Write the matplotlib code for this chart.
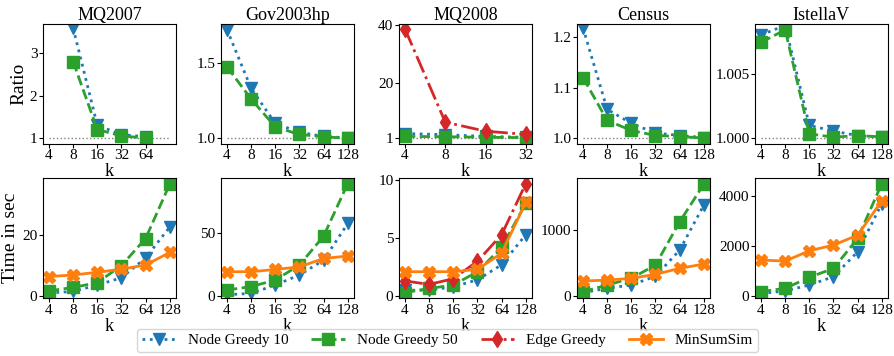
import matplotlib
matplotlib.use('Agg')
import matplotlib.pyplot as plt
from matplotlib.ticker import FixedLocator, NullLocator

plt.rcParams['font.family'] = ['Liberation Serif', 'DejaVu Serif']
plt.rcParams['font.size'] = 11

datasets = ['MQ2007', 'Gov2003hp', 'MQ2008', 'Census', 'IstellaV']
ks_all = [4, 8, 16, 32, 64, 128]

# ratio (top row)
ratio_ks = {
    'MQ2007': [8, 16, 32, 64],
    'Gov2003hp': [4, 8, 16, 32, 64, 128],
    'MQ2008': [4, 8, 16, 32],
    'Census': [4, 8, 16, 32, 64, 128],
    'IstellaV': [4, 8, 16, 32, 64, 128],
}
ratio_ng10 = {
    'MQ2007': [3.59, 1.3, 1.08, 1.03],
    'Gov2003hp': [1.72, 1.33, 1.098, 1.04, 1.012, 1.003],
    'MQ2008': [2.6, 2.2, 1.6, 1.3],
    'Census': [1.219, 1.057, 1.029, 1.01, 1.005, 1.001],
    'IstellaV': [1.00806, 1.0088, 1.0010, 1.00055, 1.0002, 1.0001],
}
ratio_ng50 = {
    'MQ2007': [2.8, 1.2, 1.05, 1.0],
    'Gov2003hp': [1.473, 1.26, 1.075, 1.025, 1.01, 1.0],
    'MQ2008': [1.6, 1.5, 1.3, 1.2],
    'Census': [1.12, 1.035, 1.015, 1.005, 1.003, 1.0],
    'IstellaV': [1.00748, 1.00845, 1.00034, 1.00008, 1.0002, 1.0001],
}
ratio_edge = {'MQ2008': [38.5, 6.5, 3.4, 2.3]}

ratio_ylim = {
    'MQ2007': (0.87, 3.69), 'Gov2003hp': (0.965, 1.758), 'MQ2008': (-0.85, 40.3),
    'Census': (0.989, 1.227), 'IstellaV': (0.99958, 1.00892),
}
ratio_yticks = {
    'MQ2007': [1, 2, 3], 'Gov2003hp': [1.0, 1.5], 'MQ2008': [1, 20, 40],
    'Census': [1.0, 1.1, 1.2], 'IstellaV': [1.000, 1.005],
}
ratio_yfmt = {'MQ2007': '{:.0f}', 'Gov2003hp': '{:.1f}', 'MQ2008': '{:.0f}',
              'Census': '{:.1f}', 'IstellaV': '{:.3f}'}

# time in sec (bottom row)
time_ng10 = {
    'MQ2007': [1.0, 1.5, 3.6, 6.0, 12.5, 22.7],
    'Gov2003hp': [1.0, 2.0, 8.7, 16.6, 28.4, 57.4],
    'MQ2008': [0.5, 0.5, 0.8, 1.4, 2.7, 5.3],
    'Census': [50, 117, 167, 300, 697, 1379],
    'IstellaV': [100, 200, 440, 773, 1773, 3707],
}
time_ng50 = {
    'MQ2007': [1.7, 2.8, 4.4, 10.0, 18.9, 36.8],
    'Gov2003hp': [4.7, 7.4, 12.6, 24.5, 47.4, 89.0],
    'MQ2008': [0.3, 0.65, 0.95, 2.1, 4.2, 8.0],
    'Census': [65, 167, 268, 470, 1126, 1697],
    'IstellaV': [173, 307, 747, 1107, 2307, 4507],
}
time_edge = {'MQ2008': [1.3, 1.0, 1.5, 3.0, 5.3, 9.7]}
time_mss = {
    'MQ2007': [6.4, 6.9, 7.8, 8.8, 10.2, 14.3],
    'Gov2003hp': [19.2, 19.2, 21.0, 23.0, 29.7, 31.6],
    'MQ2008': [2.1, 2.1, 2.1, 2.3, 3.7, 8.1],
    'Census': [227, 242, 268, 329, 420, 485],
    'IstellaV': [1440, 1400, 1813, 2040, 2440, 3813],
}
time_ylim = {
    'MQ2007': (-0.65, 38.7), 'Gov2003hp': (-1.6, 93.2), 'MQ2008': (-0.17, 10.17),
    'Census': (-30, 1788), 'IstellaV': (-80, 4720),
}
time_yticks = {
    'MQ2007': [0, 20], 'Gov2003hp': [0, 50], 'MQ2008': [0, 5, 10],
    'Census': [0, 1000], 'IstellaV': [0, 2000, 4000],
}

sty_ng10 = dict(color='#1f77b4', ls=':', marker='v', lw=2, ms=8, label='Node Greedy 10')
sty_ng50 = dict(color='#2ca02c', ls='--', marker='s', lw=2, ms=8, label='Node Greedy 50')
sty_edge = dict(color='#d62728', ls='-.', marker='d', lw=2, ms=8, label='Edge Greedy')
sty_mss = dict(color='#ff7f0e', ls='-', marker='X', lw=2, ms=8, label='MinSumSim')


def set_k_axis(ax, ticks, lo, hi):
    ax.set_xscale('log', base=2)
    ax.xaxis.set_major_locator(FixedLocator(ticks))
    ax.xaxis.set_minor_locator(NullLocator())
    ax.set_xticklabels([str(t) for t in ticks])
    span = (hi / lo)
    m = span ** 0.05
    ax.set_xlim(lo / m, hi * m)
    ax.set_xlabel('k', fontsize=13, labelpad=1)


fig, axes = plt.subplots(2, 5, figsize=(8.95, 3.56), dpi=100)
plt.subplots_adjust(left=0.048, right=0.992, top=0.933, bottom=0.163,
                    wspace=0.34, hspace=0.29)

for i, name in enumerate(datasets):
    ax = axes[0, i]
    ks = ratio_ks[name]
    hi = 32 if name == 'MQ2008' else 128
    ax.plot([4, hi], [1, 1], color='gray', ls=':', lw=1)
    ax.plot(ks, ratio_ng10[name], **sty_ng10)
    ax.plot(ks, ratio_ng50[name], **sty_ng50)
    if name in ratio_edge:
        ax.plot(ks, ratio_edge[name], **sty_edge)
    ticks = [4] + ks if ks[0] != 4 else ks
    set_k_axis(ax, ticks, 4, hi)
    ax.set_ylim(*ratio_ylim[name])
    ax.set_yticks(ratio_yticks[name])
    ax.set_yticklabels([ratio_yfmt[name].format(v) for v in ratio_yticks[name]])
    ax.set_title(name, fontsize=13, pad=2)

    ax = axes[1, i]
    ax.plot(ks_all, time_ng10[name], **sty_ng10)
    ax.plot(ks_all, time_ng50[name], **sty_ng50)
    if name in time_edge:
        ax.plot(ks_all, time_edge[name], **sty_edge)
    ax.plot(ks_all, time_mss[name], **sty_mss)
    set_k_axis(ax, ks_all, 4, 128)
    ax.set_ylim(*time_ylim[name])
    ax.set_yticks(time_yticks[name])

for ax in axes.flat:
    ax.tick_params(labelsize=11, length=3, pad=1)

axes[0, 0].set_ylabel('Ratio', fontsize=14, labelpad=2)
axes[1, 0].set_ylabel('Time in sec', fontsize=14, labelpad=2)

handles = [plt.Line2D([], [], **s) for s in (sty_ng10, sty_ng50, sty_edge, sty_mss)]
fig.legend(handles=handles, loc='lower center', ncol=4, bbox_to_anchor=(0.5, -0.01),
           fontsize=11, columnspacing=1.5, handlelength=2.2, borderpad=0.3)

fig.savefig('out.png', dpi=100)
